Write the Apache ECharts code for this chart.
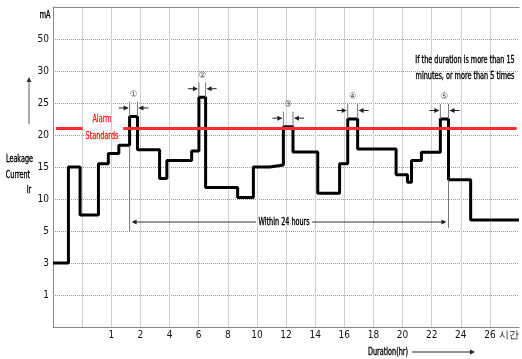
<!DOCTYPE html>
<html><head><meta charset="utf-8">
<script src="https://cdn.jsdelivr.net/npm/echarts@6/dist/echarts.min.js"></script>
<style>html,body{margin:0;padding:0;background:#fff}#c{width:522px;height:359px}</style>
</head><body><div id="c"></div>
<script>
// ---- data ----
const xTickLabels = ['', '', '1', '2', '4', '6', '8', '10', '12', '14', '16', '18', '20', '22', '24', '26', '시간'];
const yTickValues = [0, 1, 3, 5, 10, 15, 20, 25, 30, 50];
const yTickLabels = ['', '1', '3', '5', '10', '15', '20', '25', '30', '50', ''];
// step start positions (x axis grid units) and leakage current (mA)
const stepX = [0, 0.53, 0.93, 1.56, 1.90, 2.26, 2.63, 2.90, 3.66, 3.91, 4.76, 5.01, 5.24, 6.34, 6.88, 7.44, 7.91, 8.24, 9.09, 9.84, 10.12, 10.46, 11.78, 12.17, 12.31, 12.65, 13.30, 13.58, 14.34, 16];
const stepY = [3, 15, 7.5, 15.5, 17.1, 18.4, 22.9, 17.7, 13.2, 16.0, 17.5, 25.9, 11.8, 10.25, 15.0, 15.3, 21.3, 17.35, 10.9, 15.5, 22.5, 17.8, 13.8, 12.6, 16.0, 17.3, 22.5, 13.0, 6.7, 6.7];
const alarmLevel = 21;
const alarmSegments = [[0.1, 1.02], [2.41, 15.92]];
const peakIndex = [6, 11, 16, 20, 26];
const peakMarks = ['①', '②', '③', '④', '⑤'];
const within24Y = 6.4;

const FONT = "'Liberation Sans Narrow','DejaVu Sans Condensed','Liberation Sans',sans-serif";
const SX = 0.72;

function toLevel(v) {
  for (let k = 0; k < yTickValues.length - 1; k++) {
    const a = yTickValues[k], b = yTickValues[k + 1];
    if (v <= b) return k + (v - a) / (b - a);
  }
  return yTickValues.length - 1;
}

const chart = echarts.init(document.getElementById('c'), null, {renderer: 'canvas'});
const lineData = stepX.map((x, i) => [x, toLevel(stepY[i])]);
const aL = toLevel(alarmLevel);

chart.setOption({
  animation: false,
  backgroundColor: '#fff',
  grid: {left: 53, right: 2, top: 7, bottom: 32},
  xAxis: [{
    type: 'value', min: 0, max: 16, interval: 1,
    axisLine: {show: true, lineStyle: {color: '#888', width: 1}},
    axisTick: {show: false},
    axisLabel: {
      margin: 3, fontSize: 10, color: '#111', fontFamily: FONT,
      formatter: v => xTickLabels[Math.round(v)] || '',
      alignMaxLabel: 'right'
    },
    splitLine: {show: true, showMaxLine: false, lineStyle: {color: '#cfcfcf', width: 1}}
  }, {
    type: 'value', min: 0, max: 16, position: 'top',
    axisLine: {show: true, lineStyle: {color: '#888', width: 1}},
    axisTick: {show: false}, axisLabel: {show: false}, splitLine: {show: false}
  }],
  yAxis: {
    type: 'value', min: 0, max: 10, interval: 1,
    axisLine: {show: true, lineStyle: {color: '#888', width: 1}},
    axisTick: {show: false},
    axisLabel: {margin: 4, fontSize: 10, color: '#111', fontFamily: FONT,
      formatter: v => yTickLabels[Math.round(v)] || ''},
    splitLine: {show: true, lineStyle: {color: '#9a9a9a', type: [1, 1], width: 1}}
  },
  series: [{
    type: 'line', step: 'end', data: lineData, symbol: 'none', z: 3,
    lineStyle: {color: '#000', width: 3}, silent: true
  }, {
    type: 'line', data: [], z: 4, silent: true,
    markLine: {
      silent: true, symbol: 'none', animation: false,
      label: {show: false},
      lineStyle: {color: '#ff2d2d', width: 3, type: 'solid'},
      data: alarmSegments.map(s => [{coord: [s[0], aL]}, {coord: [s[1], aL]}])
    }
  }]
});

const P = (x, mA) => chart.convertToPixel({xAxisIndex: 0, yAxisIndex: 0}, [x, toLevel(mA)]);
const G = [];
const thin = {stroke: '#777', lineWidth: 1};
function seg(x1, y1, x2, y2, style) { G.push({type: 'line', shape: {x1, y1, x2, y2}, style: style || thin, z: 10}); }
function head(x, y, dir, color) { // dir: 1 points right, -1 left, -2 up
  let pts;
  if (dir === 1) pts = [[x, y], [x - 5, y - 2.5], [x - 5, y + 2.5]];
  else if (dir === -1) pts = [[x, y], [x + 5, y - 2.5], [x + 5, y + 2.5]];
  else pts = [[x, y], [x - 2.5, y + 5], [x + 2.5, y + 5]];
  G.push({type: 'polygon', shape: {points: pts}, style: {fill: color || '#222'}, z: 10});
}
function txt(x, y, t, opt, sx) {
  const fill = (opt && opt.fill) || '#000';
  G.push({type: 'text', x, y, z: 11, scaleX: sx == null ? SX : sx,
    style: Object.assign({text: t, font: '10px ' + FONT, fill: fill, stroke: fill, lineWidth: 0.35,
      align: 'center', verticalAlign: 'middle'}, opt || {})});
}

peakIndex.forEach((idx, i) => {
  const [xl, yt] = P(stepX[idx], stepY[idx]);
  const [xr] = P(stepX[idx + 1], stepY[idx]);
  seg(xl, yt - 15, xl, yt);
  seg(xr, yt - 15, xr, yt);
  const ay = yt - 8.5;
  seg(xl - 11, ay, xl - 2, ay, {stroke: '#222', lineWidth: 1});
  head(xl - 1, ay, 1);
  seg(xr + 2, ay, xr + 11, ay, {stroke: '#222', lineWidth: 1});
  head(xr + 1, ay, -1);
  txt((xl + xr) / 2, yt - 22, peakMarks[i], {font: '9px ' + FONT, fill: '#444', lineWidth: 0}, 1);
});

// within 24 hours bracket
{
  const [xl] = P(stepX[peakIndex[0]], 0);
  const [xr] = P(stepX[peakIndex[4] + 1], 0);
  const [, yTop1] = P(0, stepY[peakIndex[0] - 1]);
  const [, yTop2] = P(0, stepY[peakIndex[4] + 1]);
  const [, yb] = P(0, 5);
  const [, y24] = P(0, within24Y);
  seg(xl, yTop1, xl, yb);
  seg(xr, yTop2, xr, yb - 3);
  const mid = (xl + xr) / 2 - 3;
  seg(xl + 4, y24, mid - 30, y24, {stroke: '#333', lineWidth: 1});
  seg(mid + 26, y24, xr - 4, y24, {stroke: '#333', lineWidth: 1});
  head(xl + 2, y24, -1);
  head(xr - 2, y24, 1);
  txt(mid - 2, y24, 'Within 24 hours');
}

// alarm label
{
  const [x1, y] = P(alarmSegments[0][1], alarmLevel);
  const [x2] = P(alarmSegments[1][0], alarmLevel);
  const m = (x1 + x2) / 2 - 1;
  txt(m, y - 9.5, 'Alarm', {fill: '#ff2020'});
  txt(m, y + 7.5, 'Standards', {fill: '#ff2020'});
}

// fixed texts
txt(45, 15, 'mA');
txt(19.5, 159, 'Leakage');
txt(18, 175, 'Current');
txt(29, 190, 'Ir');
seg(29, 124, 29, 80, {stroke: '#555', lineWidth: 1});
head(29, 77, -2, '#333');
txt(465, 60, 'If the duration is more than 15');
txt(465, 76, 'minutes, or more than 5 times');
txt(388, 352, 'Duration(hr)');
seg(412, 352, 471, 352, {stroke: '#222', lineWidth: 1});
head(475, 352, 1);

chart.setOption({graphic: {elements: G}});
</script>
</body></html>
